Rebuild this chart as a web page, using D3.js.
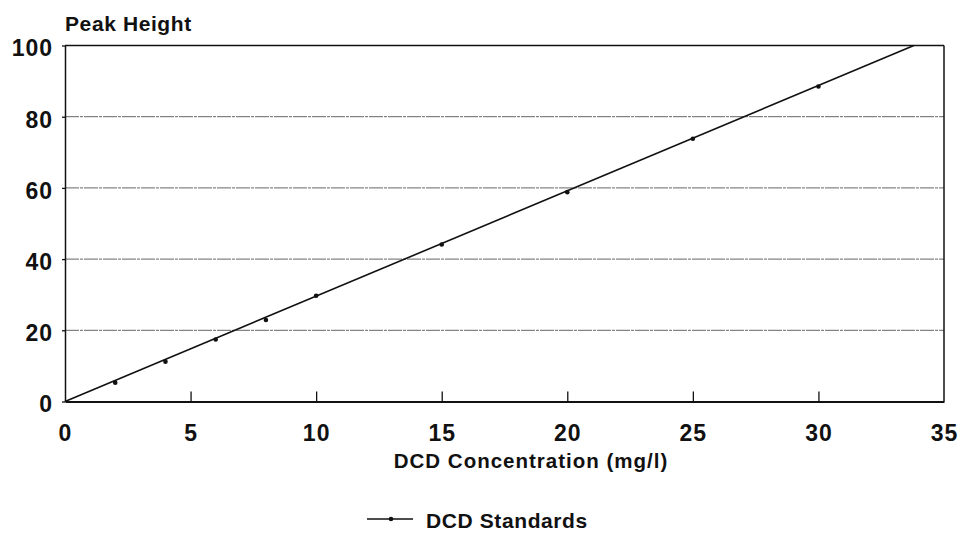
<!DOCTYPE html>
<html>
<head>
<meta charset="utf-8">
<script src="https://cdn.jsdelivr.net/npm/d3@7/dist/d3.min.js"></script>
<style>
  html, body { margin: 0; padding: 0; background: #fff; }
  svg { display: block; }
  text { font-family: "Liberation Sans", Arial, sans-serif; font-weight: bold; fill: #111; }
</style>
</head>
<body>
<svg id="chart" width="962" height="541"></svg>
<script>
// ---- data ----
const concentrations = [2, 4, 6, 8, 10, 15, 20, 25, 30];
const peakHeights = [5.3, 11.2, 17.4, 22.9, 29.7, 44.1, 58.8, 73.8, 88.5];
const fitX = [0, 33.8];
const fitY = [0, 100];
const xTicks = [0, 5, 10, 15, 20, 25, 30, 35];
const yTicks = [0, 20, 40, 60, 80, 100];
const yAxisTitle = "Peak Height";
const xAxisTitle = "DCD Concentration (mg/l)";
const seriesName = "DCD Standards";

// ---- layout ----
const svg = d3.select("#chart");
const L = 65, R = 944, T = 45.5, B = 401.5;
const x = d3.scaleLinear().domain([0, 35]).range([L, R]);
const y = d3.scaleLinear().domain([0, 100]).range([B, T]);

// gridlines
svg.append("g").selectAll("line")
  .data(yTicks.filter(d => d > 0 && d < 100))
  .join("line")
  .attr("x1", L).attr("x2", R)
  .attr("y1", d => y(d)).attr("y2", d => y(d))
  .attr("stroke", "#666").attr("stroke-width", 1)
  .attr("stroke-dasharray", "14,1,3,1");

// frame (top, right)
svg.append("line").attr("x1", L).attr("x2", R).attr("y1", T).attr("y2", T)
  .attr("stroke", "#111").attr("stroke-width", 1.5);
svg.append("line").attr("x1", R).attr("x2", R).attr("y1", T).attr("y2", B)
  .attr("stroke", "#111").attr("stroke-width", 1.5);

// x axis
const xAxis = d3.axisBottom(x).tickValues(xTicks).tickSizeInner(-10).tickSizeOuter(0).tickPadding(22);
const gx = svg.append("g").attr("transform", `translate(0,${B})`).call(xAxis);
gx.select(".domain").attr("stroke", "#111").attr("stroke-width", 2);
gx.selectAll(".tick line").attr("stroke", "#111").attr("stroke-width", 1.3)
  .filter(d => d === 0 || d === 35).remove();
gx.selectAll(".tick text").attr("font-size", 23).attr("font-family", "Liberation Sans, Arial, sans-serif")
  .attr("font-weight", "bold").attr("fill", "#111").attr("letter-spacing", 1).attr("dy", "0.71em").attr("y", 23);

// y axis
const yAxis = d3.axisLeft(y).tickValues(yTicks).tickSizeInner(3).tickSizeOuter(0).tickPadding(9);
const gy = svg.append("g").attr("transform", `translate(${L},0)`).call(yAxis);
gy.select(".domain").attr("stroke", "#111").attr("stroke-width", 1.5);
gy.selectAll(".tick line").attr("stroke", "#111").attr("stroke-width", 1.3);
gy.selectAll(".tick text").attr("font-size", 23).attr("font-family", "Liberation Sans, Arial, sans-serif")
  .attr("font-weight", "bold").attr("fill", "#111").attr("letter-spacing", 1).attr("dy", "0.45em");

// fitted line
const line = d3.line().x(d => x(d[0])).y(d => y(d[1]));
svg.append("path")
  .datum(fitX.map((v, i) => [v, fitY[i]]))
  .attr("d", line).attr("fill", "none").attr("stroke", "#111").attr("stroke-width", 1.6);

// points
svg.append("g").selectAll("circle")
  .data(concentrations.map((v, i) => [v, peakHeights[i]]))
  .join("circle")
  .attr("cx", d => x(d[0])).attr("cy", d => y(d[1])).attr("r", 2.3)
  .attr("fill", "#111");

// titles
svg.append("text").attr("x", 65).attr("y", 31).attr("font-size", 21)
  .attr("letter-spacing", 0.6).text(yAxisTitle);
svg.append("text").attr("x", (395 + 667) / 2).attr("y", 468).attr("text-anchor", "middle")
  .attr("font-size", 20.5).attr("letter-spacing", 1).text(xAxisTitle);

// legend
const lg = svg.append("g");
lg.append("line").attr("x1", 367).attr("x2", 413).attr("y1", 519).attr("y2", 519)
  .attr("stroke", "#111").attr("stroke-width", 1.3);
lg.append("circle").attr("cx", 391).attr("cy", 519).attr("r", 2.3).attr("fill", "#111");
lg.append("text").attr("x", 426).attr("y", 528).attr("font-size", 21)
  .attr("letter-spacing", 0.6).text(seriesName);
</script>
</body>
</html>
